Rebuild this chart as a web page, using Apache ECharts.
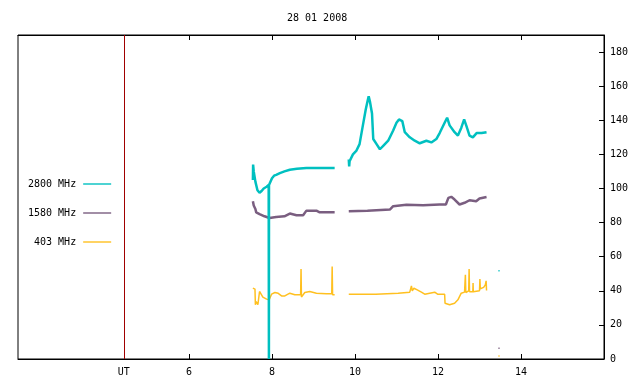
<!DOCTYPE html>
<html>
<head>
<meta charset="utf-8">
<script src="https://cdn.jsdelivr.net/npm/echarts/dist/echarts.min.js"></script>
<style>
  html, body { margin: 0; padding: 0; background: #fff; }
  #chart { width: 640px; height: 384px; }
</style>
<title>28 01 2008</title>
</head>
<body>
<div id="chart"></div>
<script type="text/javascript">
// hours (UT) and flux values, null = gap in the record
var t2800 = [7.54,7.545,7.56,7.60,7.65,7.70,7.75,7.80,7.87,7.92,7.925,7.926,7.928,8.0,8.05,8.1,8.19,8.3,8.43,8.6,8.83,9.0,9.15,9.3,9.51,
  9.6,
  9.85,9.86,9.87,9.95,10.03,10.11,10.19,10.26,10.31,10.33,10.36,10.38,10.41,10.44,10.52,10.6,10.68,10.8,10.92,11.0,11.06,11.14,11.2,11.32,11.44,11.56,11.72,11.84,11.96,12.04,12.16,12.22,12.28,12.4,12.48,12.56,12.63,12.68,12.76,12.84,12.93,13.05,13.17];
var v2800 = [105,114,110,104,99,97.5,98.5,100,101,102,101,0,102,106,107.5,108,109,110,111,111.5,112,112,112,112,112,
  null,
  117,113,116,120,122,126,137,146.5,152,154,151,150,144,129,126,123,125,128,134,138.5,140.5,139.5,133,130,128,126.5,128,127,129,132.5,138.5,141.5,137,133,131,135.5,140.5,137,131,130,132.5,132.5,133];

var t1580 = [7.54,7.56,7.6,7.62,7.7,7.82,7.94,8.1,8.3,8.43,8.59,8.75,8.83,9.07,9.15,9.51,
  9.6,
  9.85,10.3,10.84,10.92,11.24,11.64,12.04,12.19,12.25,12.32,12.4,12.52,12.64,12.76,12.92,13.0,13.17];
var v1580 = [92.5,90,88,86,85,83.7,82.7,83.3,83.7,85.3,84.3,84.3,87,87,86,86,
  null,
  86.7,87,87.6,89.6,90.4,90.2,90.6,90.6,94.5,95.1,93.5,90.6,91.6,93.1,92.5,94.1,95];

var t403 = [7.54,7.57,7.59,7.6,7.62,7.66,7.7,7.74,7.78,7.87,7.93,7.99,8.07,8.15,8.23,8.31,8.43,8.55,8.69,8.70,8.71,8.79,8.91,9.07,9.31,9.44,9.45,9.46,9.51,
  9.6,
  9.85,10.5,11.04,11.32,11.36,11.38,11.42,11.5,11.6,11.68,11.8,11.92,11.99,12.16,12.17,12.28,12.4,12.48,12.56,12.64,12.66,12.67,12.74,12.75,12.76,12.84,12.845,12.85,13.0,13.01,13.02,13.1,13.14,13.16,13.17];
var v403 = [41.6,42.5,41,31.8,33.7,31.8,39.6,40.2,36.3,35.1,34.7,38,39,38.5,37,37,38.6,37.7,37.7,52.7,36.3,39,39.6,38.6,38.2,38.2,54.3,37.7,37.7,
  null,
  38,38,38.6,39.2,42.9,40,41.5,40.5,39.2,38,38.6,39.2,38,38,32.7,31.8,32.7,34.7,38.6,39.2,49.4,39,40,52.7,39.5,39.5,44.5,39.5,40,46.9,41.2,42,43.5,45.8,40.2];

// isolated single samples after the main record
var tDots = 13.47;
var dot2800 = 51.8, dot1580 = 6.3, dot403 = 1.8;

var utMark = 4.43;
var hourTicks = [6, 8, 10, 12, 14];
var yTicks = [0, 20, 40, 60, 80, 100, 120, 140, 160, 180];

var names = ['2800 MHz', '1580 MHz', '403 MHz'];
var colors = ['#00c0c0', '#7a5e80', '#ffc020'];

function pairs(t, v) {
  var out = [];
  for (var i = 0; i < t.length; i++) out.push([t[i], v[i]]);
  return out;
}

var font = 'DejaVu Sans Mono';
var myChart = echarts.init(document.getElementById('chart'));

var option = {
  animation: false,
  backgroundColor: '#fff',
  title: {
    text: '28 01 2008',
    left: 282, top: 8,
    textStyle: { fontFamily: font, fontSize: 10, fontWeight: 'normal', color: '#000' }
  },
  legend: {
    data: names,
    orient: 'vertical',
    left: 23, top: 174,
    align: 'right',
    itemGap: 19,
    itemWidth: 28,
    itemHeight: 11,
    icon: 'path://M0,5L28,5L28,6.4L0,6.4Z',
    formatter: function (n) { return ('        ' + n).slice(-8); },
    textStyle: { fontFamily: font, fontSize: 10, color: '#000', padding: [0, 2, 0, 0] }
  },
  grid: {
    left: 18, right: 36, top: 35, bottom: 25,
    show: true, borderColor: '#000', borderWidth: 1
  },
  xAxis: [{
    type: 'value', min: 1.88, max: 16, position: 'bottom',
    axisLine: { show: true, lineStyle: { color: '#000' } },
    axisTick: { show: true, inside: true, length: 5, customValues: hourTicks, lineStyle: { color: '#000' } },
    axisLabel: {
      customValues: [utMark].concat(hourTicks),
      formatter: function (v) { return Math.abs(v - utMark) < 0.01 ? 'UT' : String(v); },
      fontFamily: font, fontSize: 10, color: '#000', margin: 8
    },
    splitLine: { show: false }
  }, {
    type: 'value', min: 1.88, max: 16, position: 'top',
    axisLine: { show: true, lineStyle: { color: '#000' } },
    axisTick: { show: true, inside: true, length: 5, customValues: hourTicks, lineStyle: { color: '#000' } },
    axisLabel: { show: false },
    splitLine: { show: false }
  }],
  yAxis: {
    type: 'value', min: 0, max: 190, position: 'right',
    axisLine: { show: true, lineStyle: { color: '#000' } },
    axisTick: { show: true, inside: true, length: 5, customValues: yTicks, lineStyle: { color: '#000' } },
    axisLabel: { customValues: yTicks, fontFamily: font, fontSize: 10, color: '#000', margin: 6 },
    splitLine: { show: false }
  },
  series: [{
    name: names[0], type: 'line', data: pairs(t2800, v2800), z: 5,
    showSymbol: false, connectNulls: false,
    lineStyle: { color: colors[0], width: 2.5 }, itemStyle: { color: colors[0] },
    markLine: {
      silent: true, symbol: 'none', label: { show: false },
      lineStyle: { color: '#a00000', width: 1, type: 'solid' },
      data: [{ xAxis: utMark }]
    }
  }, {
    name: names[1], type: 'line', data: pairs(t1580, v1580), z: 3,
    showSymbol: false, connectNulls: false,
    lineStyle: { color: colors[1], width: 2.5 }, itemStyle: { color: colors[1] }
  }, {
    name: names[2], type: 'line', data: pairs(t403, v403), z: 4,
    showSymbol: false, connectNulls: false,
    lineStyle: { color: colors[2], width: 1.5 }, itemStyle: { color: colors[2] }
  }, {
    type: 'scatter', symbol: 'rect', symbolSize: 1.5, silent: true,
    data: [
      { value: [tDots, dot2800], itemStyle: { color: colors[0] } },
      { value: [tDots, dot1580], itemStyle: { color: colors[1] } },
      { value: [tDots, dot403], itemStyle: { color: colors[2] } }
    ]
  }]
};

myChart.setOption(option);
</script>
</body>
</html>
